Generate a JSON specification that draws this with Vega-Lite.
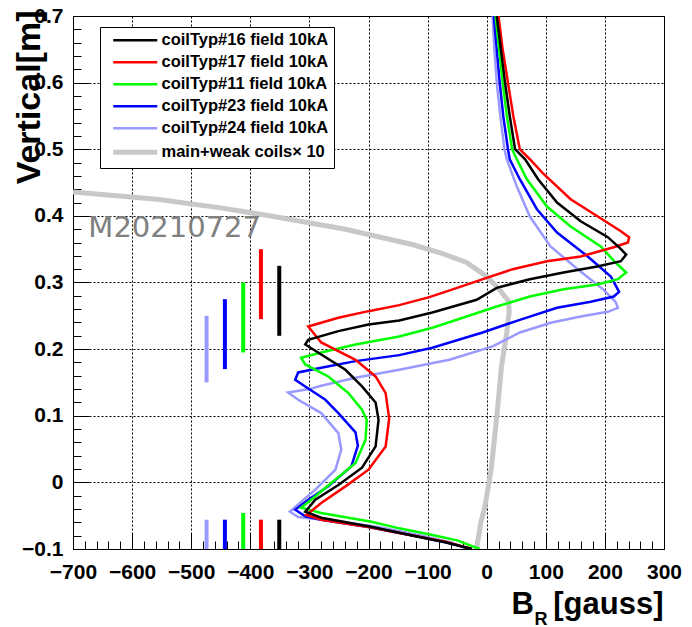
{
  "$schema": "https://vega.github.io/schema/vega-lite/v6.json",
  "width": 591,
  "height": 533,
  "autosize": "none",
  "padding": {"left": 73, "top": 16, "right": 28, "bottom": 78},
  "background": "white",
  "config": {
    "font": "Liberation Sans",
    "view": {"stroke": "black", "strokeWidth": 1},
    "legend": {
      "orient": "none",
      "legendX": 27,
      "legendY": 11,
      "symbolType": "M-4.4,0H4.4",
      "symbolSize": 100,
      "symbolOffset": 22,
      "symbolStrokeWidth": 2.5,
      "labelFont": "Liberation Sans",
      "labelFontSize": 16.5,
      "labelFontWeight": "bold",
      "labelColor": "black",
      "labelOffset": 18,
      "padding": 5,
      "rowPadding": 5,
      "strokeColor": "black",
      "fillColor": "white",
      "labelLimit": 400
    }
  },
  "datasets": {
    "gray": [
      {"s": "main+weak coils× 10", "b": -17, "z": -0.1},
      {"s": "main+weak coils× 10", "b": -10, "z": -0.06},
      {"s": "main+weak coils× 10", "b": -3, "z": -0.037},
      {"s": "main+weak coils× 10", "b": 8, "z": 0.023},
      {"s": "main+weak coils× 10", "b": 17, "z": 0.098},
      {"s": "main+weak coils× 10", "b": 25, "z": 0.174},
      {"s": "main+weak coils× 10", "b": 34, "z": 0.225},
      {"s": "main+weak coils× 10", "b": 38, "z": 0.255},
      {"s": "main+weak coils× 10", "b": 37, "z": 0.272},
      {"s": "main+weak coils× 10", "b": 22, "z": 0.289},
      {"s": "main+weak coils× 10", "b": 0, "z": 0.309},
      {"s": "main+weak coils× 10", "b": -34, "z": 0.33},
      {"s": "main+weak coils× 10", "b": -80, "z": 0.345},
      {"s": "main+weak coils× 10", "b": -126, "z": 0.357},
      {"s": "main+weak coils× 10", "b": -239, "z": 0.38},
      {"s": "main+weak coils× 10", "b": -353, "z": 0.398},
      {"s": "main+weak coils× 10", "b": -450, "z": 0.412},
      {"s": "main+weak coils× 10", "b": -558, "z": 0.425},
      {"s": "main+weak coils× 10", "b": -700, "z": 0.436}
    ],
    "curves": [
      {"s": "coilTyp#24 field 10kA", "b": -34, "z": -0.1},
      {"s": "coilTyp#24 field 10kA", "b": -60, "z": -0.09},
      {"s": "coilTyp#24 field 10kA", "b": -110, "z": -0.08},
      {"s": "coilTyp#24 field 10kA", "b": -183, "z": -0.067},
      {"s": "coilTyp#24 field 10kA", "b": -260, "z": -0.058},
      {"s": "coilTyp#24 field 10kA", "b": -319, "z": -0.052},
      {"s": "coilTyp#24 field 10kA", "b": -333, "z": -0.044},
      {"s": "coilTyp#24 field 10kA", "b": -324, "z": -0.037},
      {"s": "coilTyp#24 field 10kA", "b": -290, "z": -0.011},
      {"s": "coilTyp#24 field 10kA", "b": -256, "z": 0.019},
      {"s": "coilTyp#24 field 10kA", "b": -246, "z": 0.049},
      {"s": "coilTyp#24 field 10kA", "b": -251, "z": 0.074},
      {"s": "coilTyp#24 field 10kA", "b": -280, "z": 0.104},
      {"s": "coilTyp#24 field 10kA", "b": -319, "z": 0.124},
      {"s": "coilTyp#24 field 10kA", "b": -336, "z": 0.135},
      {"s": "coilTyp#24 field 10kA", "b": -300, "z": 0.14},
      {"s": "coilTyp#24 field 10kA", "b": -280, "z": 0.145},
      {"s": "coilTyp#24 field 10kA", "b": -222, "z": 0.157},
      {"s": "coilTyp#24 field 10kA", "b": -148, "z": 0.169},
      {"s": "coilTyp#24 field 10kA", "b": -63, "z": 0.184},
      {"s": "coilTyp#24 field 10kA", "b": 10, "z": 0.204},
      {"s": "coilTyp#24 field 10kA", "b": 56, "z": 0.225},
      {"s": "coilTyp#24 field 10kA", "b": 110, "z": 0.24},
      {"s": "coilTyp#24 field 10kA", "b": 159, "z": 0.249},
      {"s": "coilTyp#24 field 10kA", "b": 205, "z": 0.256},
      {"s": "coilTyp#24 field 10kA", "b": 222, "z": 0.262},
      {"s": "coilTyp#24 field 10kA", "b": 218, "z": 0.271},
      {"s": "coilTyp#24 field 10kA", "b": 198, "z": 0.289},
      {"s": "coilTyp#24 field 10kA", "b": 154, "z": 0.32},
      {"s": "coilTyp#24 field 10kA", "b": 108, "z": 0.354},
      {"s": "coilTyp#24 field 10kA", "b": 73, "z": 0.399},
      {"s": "coilTyp#24 field 10kA", "b": 51, "z": 0.444},
      {"s": "coilTyp#24 field 10kA", "b": 34, "z": 0.485},
      {"s": "coilTyp#24 field 10kA", "b": 30, "z": 0.5},
      {"s": "coilTyp#24 field 10kA", "b": 23, "z": 0.55},
      {"s": "coilTyp#24 field 10kA", "b": 17, "z": 0.6},
      {"s": "coilTyp#24 field 10kA", "b": 13, "z": 0.65},
      {"s": "coilTyp#24 field 10kA", "b": 10, "z": 0.7},

      {"s": "coilTyp#23 field 10kA", "b": -25, "z": -0.1},
      {"s": "coilTyp#23 field 10kA", "b": -70, "z": -0.09},
      {"s": "coilTyp#23 field 10kA", "b": -130, "z": -0.079},
      {"s": "coilTyp#23 field 10kA", "b": -200, "z": -0.067},
      {"s": "coilTyp#23 field 10kA", "b": -280, "z": -0.056},
      {"s": "coilTyp#23 field 10kA", "b": -307, "z": -0.051},
      {"s": "coilTyp#23 field 10kA", "b": -324, "z": -0.041},
      {"s": "coilTyp#23 field 10kA", "b": -302, "z": -0.026},
      {"s": "coilTyp#23 field 10kA", "b": -268, "z": -0.006},
      {"s": "coilTyp#23 field 10kA", "b": -229, "z": 0.024},
      {"s": "coilTyp#23 field 10kA", "b": -218, "z": 0.055},
      {"s": "coilTyp#23 field 10kA", "b": -222, "z": 0.075},
      {"s": "coilTyp#23 field 10kA", "b": -237, "z": 0.09},
      {"s": "coilTyp#23 field 10kA", "b": -251, "z": 0.104},
      {"s": "coilTyp#23 field 10kA", "b": -273, "z": 0.124},
      {"s": "coilTyp#23 field 10kA", "b": -307, "z": 0.144},
      {"s": "coilTyp#23 field 10kA", "b": -324, "z": 0.154},
      {"s": "coilTyp#23 field 10kA", "b": -319, "z": 0.165},
      {"s": "coilTyp#23 field 10kA", "b": -280, "z": 0.172},
      {"s": "coilTyp#23 field 10kA", "b": -222, "z": 0.182},
      {"s": "coilTyp#23 field 10kA", "b": -148, "z": 0.191},
      {"s": "coilTyp#23 field 10kA", "b": -92, "z": 0.202},
      {"s": "coilTyp#23 field 10kA", "b": -7, "z": 0.225},
      {"s": "coilTyp#23 field 10kA", "b": 56, "z": 0.244},
      {"s": "coilTyp#23 field 10kA", "b": 119, "z": 0.262},
      {"s": "coilTyp#23 field 10kA", "b": 176, "z": 0.271},
      {"s": "coilTyp#23 field 10kA", "b": 215, "z": 0.279},
      {"s": "coilTyp#23 field 10kA", "b": 224, "z": 0.286},
      {"s": "coilTyp#23 field 10kA", "b": 210, "z": 0.309},
      {"s": "coilTyp#23 field 10kA", "b": 171, "z": 0.339},
      {"s": "coilTyp#23 field 10kA", "b": 119, "z": 0.375},
      {"s": "coilTyp#23 field 10kA", "b": 85, "z": 0.41},
      {"s": "coilTyp#23 field 10kA", "b": 56, "z": 0.455},
      {"s": "coilTyp#23 field 10kA", "b": 39, "z": 0.485},
      {"s": "coilTyp#23 field 10kA", "b": 36, "z": 0.5},
      {"s": "coilTyp#23 field 10kA", "b": 28, "z": 0.55},
      {"s": "coilTyp#23 field 10kA", "b": 22, "z": 0.6},
      {"s": "coilTyp#23 field 10kA", "b": 17, "z": 0.65},
      {"s": "coilTyp#23 field 10kA", "b": 12, "z": 0.7},

      {"s": "coilTyp#11 field 10kA", "b": -12, "z": -0.1},
      {"s": "coilTyp#11 field 10kA", "b": -50, "z": -0.087},
      {"s": "coilTyp#11 field 10kA", "b": -92, "z": -0.079},
      {"s": "coilTyp#11 field 10kA", "b": -148, "z": -0.069},
      {"s": "coilTyp#11 field 10kA", "b": -195, "z": -0.059},
      {"s": "coilTyp#11 field 10kA", "b": -280, "z": -0.046},
      {"s": "coilTyp#11 field 10kA", "b": -314, "z": -0.038},
      {"s": "coilTyp#11 field 10kA", "b": -297, "z": -0.026},
      {"s": "coilTyp#11 field 10kA", "b": -263, "z": -0.001},
      {"s": "coilTyp#11 field 10kA", "b": -222, "z": 0.029},
      {"s": "coilTyp#11 field 10kA", "b": -205, "z": 0.064},
      {"s": "coilTyp#11 field 10kA", "b": -203, "z": 0.094},
      {"s": "coilTyp#11 field 10kA", "b": -211, "z": 0.109},
      {"s": "coilTyp#11 field 10kA", "b": -234, "z": 0.134},
      {"s": "coilTyp#11 field 10kA", "b": -268, "z": 0.159},
      {"s": "coilTyp#11 field 10kA", "b": -307, "z": 0.177},
      {"s": "coilTyp#11 field 10kA", "b": -314, "z": 0.187},
      {"s": "coilTyp#11 field 10kA", "b": -280, "z": 0.195},
      {"s": "coilTyp#11 field 10kA", "b": -222, "z": 0.207},
      {"s": "coilTyp#11 field 10kA", "b": -148, "z": 0.219},
      {"s": "coilTyp#11 field 10kA", "b": -92, "z": 0.232},
      {"s": "coilTyp#11 field 10kA", "b": -34, "z": 0.249},
      {"s": "coilTyp#11 field 10kA", "b": 17, "z": 0.264},
      {"s": "coilTyp#11 field 10kA", "b": 73, "z": 0.279},
      {"s": "coilTyp#11 field 10kA", "b": 130, "z": 0.29},
      {"s": "coilTyp#11 field 10kA", "b": 187, "z": 0.297},
      {"s": "coilTyp#11 field 10kA", "b": 222, "z": 0.305},
      {"s": "coilTyp#11 field 10kA", "b": 236, "z": 0.315},
      {"s": "coilTyp#11 field 10kA", "b": 218, "z": 0.33},
      {"s": "coilTyp#11 field 10kA", "b": 193, "z": 0.354},
      {"s": "coilTyp#11 field 10kA", "b": 142, "z": 0.384},
      {"s": "coilTyp#11 field 10kA", "b": 102, "z": 0.414},
      {"s": "coilTyp#11 field 10kA", "b": 68, "z": 0.455},
      {"s": "coilTyp#11 field 10kA", "b": 51, "z": 0.485},
      {"s": "coilTyp#11 field 10kA", "b": 43, "z": 0.5},
      {"s": "coilTyp#11 field 10kA", "b": 34, "z": 0.55},
      {"s": "coilTyp#11 field 10kA", "b": 27, "z": 0.6},
      {"s": "coilTyp#11 field 10kA", "b": 21, "z": 0.65},
      {"s": "coilTyp#11 field 10kA", "b": 15, "z": 0.7},

      {"s": "coilTyp#17 field 10kA", "b": -25, "z": -0.1},
      {"s": "coilTyp#17 field 10kA", "b": -70, "z": -0.089},
      {"s": "coilTyp#17 field 10kA", "b": -130, "z": -0.079},
      {"s": "coilTyp#17 field 10kA", "b": -200, "z": -0.067},
      {"s": "coilTyp#17 field 10kA", "b": -280, "z": -0.056},
      {"s": "coilTyp#17 field 10kA", "b": -305, "z": -0.049},
      {"s": "coilTyp#17 field 10kA", "b": -280, "z": -0.031},
      {"s": "coilTyp#17 field 10kA", "b": -239, "z": -0.006},
      {"s": "coilTyp#17 field 10kA", "b": -200, "z": 0.019},
      {"s": "coilTyp#17 field 10kA", "b": -171, "z": 0.054},
      {"s": "coilTyp#17 field 10kA", "b": -165, "z": 0.096},
      {"s": "coilTyp#17 field 10kA", "b": -171, "z": 0.134},
      {"s": "coilTyp#17 field 10kA", "b": -188, "z": 0.159},
      {"s": "coilTyp#17 field 10kA", "b": -222, "z": 0.184},
      {"s": "coilTyp#17 field 10kA", "b": -280, "z": 0.21},
      {"s": "coilTyp#17 field 10kA", "b": -302, "z": 0.234},
      {"s": "coilTyp#17 field 10kA", "b": -251, "z": 0.247},
      {"s": "coilTyp#17 field 10kA", "b": -200, "z": 0.257},
      {"s": "coilTyp#17 field 10kA", "b": -148, "z": 0.266},
      {"s": "coilTyp#17 field 10kA", "b": -97, "z": 0.278},
      {"s": "coilTyp#17 field 10kA", "b": -50, "z": 0.292},
      {"s": "coilTyp#17 field 10kA", "b": 0, "z": 0.307},
      {"s": "coilTyp#17 field 10kA", "b": 44, "z": 0.32},
      {"s": "coilTyp#17 field 10kA", "b": 102, "z": 0.332},
      {"s": "coilTyp#17 field 10kA", "b": 159, "z": 0.339},
      {"s": "coilTyp#17 field 10kA", "b": 215, "z": 0.353},
      {"s": "coilTyp#17 field 10kA", "b": 239, "z": 0.36},
      {"s": "coilTyp#17 field 10kA", "b": 241, "z": 0.368},
      {"s": "coilTyp#17 field 10kA", "b": 227, "z": 0.377},
      {"s": "coilTyp#17 field 10kA", "b": 188, "z": 0.399},
      {"s": "coilTyp#17 field 10kA", "b": 142, "z": 0.425},
      {"s": "coilTyp#17 field 10kA", "b": 94, "z": 0.465},
      {"s": "coilTyp#17 field 10kA", "b": 73, "z": 0.485},
      {"s": "coilTyp#17 field 10kA", "b": 56, "z": 0.5},
      {"s": "coilTyp#17 field 10kA", "b": 45, "z": 0.55},
      {"s": "coilTyp#17 field 10kA", "b": 36, "z": 0.6},
      {"s": "coilTyp#17 field 10kA", "b": 27, "z": 0.65},
      {"s": "coilTyp#17 field 10kA", "b": 20, "z": 0.7},

      {"s": "coilTyp#16 field 10kA", "b": -25, "z": -0.1},
      {"s": "coilTyp#16 field 10kA", "b": -70, "z": -0.09},
      {"s": "coilTyp#16 field 10kA", "b": -130, "z": -0.079},
      {"s": "coilTyp#16 field 10kA", "b": -200, "z": -0.066},
      {"s": "coilTyp#16 field 10kA", "b": -280, "z": -0.053},
      {"s": "coilTyp#16 field 10kA", "b": -307, "z": -0.044},
      {"s": "coilTyp#16 field 10kA", "b": -290, "z": -0.026},
      {"s": "coilTyp#16 field 10kA", "b": -251, "z": -0.004},
      {"s": "coilTyp#16 field 10kA", "b": -211, "z": 0.022},
      {"s": "coilTyp#16 field 10kA", "b": -188, "z": 0.054},
      {"s": "coilTyp#16 field 10kA", "b": -183, "z": 0.094},
      {"s": "coilTyp#16 field 10kA", "b": -188, "z": 0.12},
      {"s": "coilTyp#16 field 10kA", "b": -211, "z": 0.144},
      {"s": "coilTyp#16 field 10kA", "b": -239, "z": 0.169},
      {"s": "coilTyp#16 field 10kA", "b": -280, "z": 0.192},
      {"s": "coilTyp#16 field 10kA", "b": -307, "z": 0.207},
      {"s": "coilTyp#16 field 10kA", "b": -302, "z": 0.214},
      {"s": "coilTyp#16 field 10kA", "b": -251, "z": 0.227},
      {"s": "coilTyp#16 field 10kA", "b": -200, "z": 0.237},
      {"s": "coilTyp#16 field 10kA", "b": -148, "z": 0.243},
      {"s": "coilTyp#16 field 10kA", "b": -92, "z": 0.255},
      {"s": "coilTyp#16 field 10kA", "b": -17, "z": 0.274},
      {"s": "coilTyp#16 field 10kA", "b": 17, "z": 0.292},
      {"s": "coilTyp#16 field 10kA", "b": 73, "z": 0.305},
      {"s": "coilTyp#16 field 10kA", "b": 130, "z": 0.315},
      {"s": "coilTyp#16 field 10kA", "b": 187, "z": 0.324},
      {"s": "coilTyp#16 field 10kA", "b": 227, "z": 0.332},
      {"s": "coilTyp#16 field 10kA", "b": 236, "z": 0.342},
      {"s": "coilTyp#16 field 10kA", "b": 225, "z": 0.352},
      {"s": "coilTyp#16 field 10kA", "b": 205, "z": 0.368},
      {"s": "coilTyp#16 field 10kA", "b": 159, "z": 0.392},
      {"s": "coilTyp#16 field 10kA", "b": 119, "z": 0.42},
      {"s": "coilTyp#16 field 10kA", "b": 87, "z": 0.455},
      {"s": "coilTyp#16 field 10kA", "b": 65, "z": 0.485},
      {"s": "coilTyp#16 field 10kA", "b": 48, "z": 0.5},
      {"s": "coilTyp#16 field 10kA", "b": 39, "z": 0.55},
      {"s": "coilTyp#16 field 10kA", "b": 31, "z": 0.6},
      {"s": "coilTyp#16 field 10kA", "b": 24, "z": 0.65},
      {"s": "coilTyp#16 field 10kA", "b": 17, "z": 0.7}
    ],
    "bars": [
      {"s": "coilTyp#24 field 10kA", "b": -474, "z1": 0.15, "z2": 0.25},
      {"s": "coilTyp#23 field 10kA", "b": -443, "z1": 0.17, "z2": 0.275},
      {"s": "coilTyp#11 field 10kA", "b": -412, "z1": 0.195, "z2": 0.3},
      {"s": "coilTyp#17 field 10kA", "b": -382, "z1": 0.245, "z2": 0.35},
      {"s": "coilTyp#16 field 10kA", "b": -351, "z1": 0.22, "z2": 0.325},
      {"s": "coilTyp#24 field 10kA", "b": -474, "z1": -0.1, "z2": -0.056},
      {"s": "coilTyp#23 field 10kA", "b": -443, "z1": -0.1, "z2": -0.056},
      {"s": "coilTyp#11 field 10kA", "b": -412, "z1": -0.1, "z2": -0.046},
      {"s": "coilTyp#17 field 10kA", "b": -382, "z1": -0.1, "z2": -0.056},
      {"s": "coilTyp#16 field 10kA", "b": -351, "z1": -0.1, "z2": -0.056}
    ],
    "note": [
      {"b": -674, "z": 0.369, "label": "M20210727"}
    ]
  },
  "resolve": {"axis": {"x": "independent", "y": "independent"}},
  "layer": [
    {
      "data": {"name": "gray"},
      "mark": {"type": "line", "clip": true, "strokeWidth": 5},
      "encoding": {
        "x": {
          "field": "b", "type": "quantitative",
          "scale": {"domain": [-700, 300], "nice": false, "zero": false},
          "axis": {
            "orient": "bottom",
            "values": [-700, -600, -500, -400, -300, -200, -100, 0, 100, 200, 300],
            "format": "d",
            "grid": true, "gridColor": "black", "gridDash": [2, 2], "gridWidth": 1, "gridOpacity": 1,
            "ticks": true, "tickSize": -16, "tickColor": "black", "tickWidth": 1,
            "domain": false,
            "labelFont": "Liberation Sans", "labelFontSize": 21, "labelFontWeight": "bold", "labelColor": "black",
            "labelPadding": 28, "labelFlush": false, "labelOverlap": false,
            "title": "[gauss]",
            "titleFont": "Liberation Sans", "titleFontSize": 31, "titleFontWeight": "bold", "titleColor": "black",
            "titleX": 590, "titleY": 64, "titleAlign": "right", "titleBaseline": "alphabetic", "titleAngle": 0
          }
        },
        "y": {
          "field": "z", "type": "quantitative",
          "scale": {"domain": [-0.1, 0.7], "nice": false, "zero": false},
          "axis": {
            "orient": "left",
            "values": [-0.1, 0, 0.1, 0.2, 0.3, 0.4, 0.5, 0.6, 0.7],
            "labelExpr": "datum.value == 0 ? '0' : format(datum.value, '.1f')",
            "grid": true, "gridColor": "black", "gridDash": [2, 2], "gridWidth": 1, "gridOpacity": 1,
            "ticks": true, "tickSize": -16, "tickColor": "black", "tickWidth": 1,
            "domain": false,
            "labelFont": "Liberation Sans", "labelFontSize": 21, "labelFontWeight": "bold", "labelColor": "black",
            "labelPadding": 26, "labelFlush": false, "labelOverlap": false, "labelBaseline": "middle",
            "title": "Vertical[m]",
            "titleFont": "Liberation Sans", "titleFontSize": 34, "titleFontWeight": "bold", "titleColor": "black",
            "titleX": -34, "titleY": -6, "titleAngle": 270, "titleAlign": "right", "titleBaseline": "alphabetic"
          }
        },
        "order": {"field": "z", "type": "quantitative"},
        "color": {
          "field": "s", "type": "nominal",
          "scale": {
            "domain": ["coilTyp#16 field 10kA", "coilTyp#17 field 10kA", "coilTyp#11 field 10kA", "coilTyp#23 field 10kA", "coilTyp#24 field 10kA", "main+weak coils× 10"],
            "range": ["#000000", "#ff0000", "#00ff00", "#0000ff", "#9999ff", "#c8c8c8"]
          },
          "legend": {
            "title": null,
            "encode": {"symbols": {"update": {"strokeWidth": {"signal": "datum.value === 'main+weak coils× 10' ? 5 : 2.5"}}}}
          }
        }
      }
    },
    {
      "data": {"name": "curves"},
      "mark": {"type": "line", "clip": true, "strokeWidth": 2.5},
      "encoding": {
        "x": {
          "field": "b", "type": "quantitative",
          "scale": {"domain": [-700, 300], "nice": false, "zero": false},
          "axis": {
            "orient": "bottom",
            "values": [-680, -660, -640, -620, -580, -560, -540, -520, -480, -460, -440, -420, -380, -360, -340, -320, -280, -260, -240, -220, -180, -160, -140, -120, -80, -60, -40, -20, 20, 40, 60, 80, 120, 140, 160, 180, 220, 240, 260, 280],
            "grid": false, "labels": false, "domain": false,
            "ticks": true, "tickSize": -8, "tickColor": "black", "tickWidth": 1,
            "title": "B",
            "titleFont": "Liberation Sans", "titleFontSize": 31, "titleFontWeight": "bold", "titleColor": "black",
            "titleX": 438, "titleY": 64, "titleAlign": "left", "titleBaseline": "alphabetic", "titleAngle": 0
          }
        },
        "y": {
          "field": "z", "type": "quantitative",
          "scale": {"domain": [-0.1, 0.7], "nice": false, "zero": false},
          "axis": {
            "orient": "left",
            "values": [-0.08, -0.06, -0.04, -0.02, 0.02, 0.04, 0.06, 0.08, 0.12, 0.14, 0.16, 0.18, 0.22, 0.24, 0.26, 0.28, 0.32, 0.34, 0.36, 0.38, 0.42, 0.44, 0.46, 0.48, 0.52, 0.54, 0.56, 0.58, 0.62, 0.64, 0.66, 0.68],
            "grid": false, "labels": false, "domain": false,
            "ticks": true, "tickSize": -8, "tickColor": "black", "tickWidth": 1,
            "title": null
          }
        },
        "order": {"field": "z", "type": "quantitative"},
        "color": {"field": "s", "type": "nominal", "legend": {"title": null}}
      }
    },
    {
      "data": {"name": "bars"},
      "mark": {"type": "rule", "strokeWidth": 4},
      "encoding": {
        "x": {
          "field": "b", "type": "quantitative",
          "scale": {"domain": [-700, 300], "nice": false, "zero": false},
          "axis": {
            "orient": "bottom",
            "grid": false, "labels": false, "domain": false, "ticks": false,
            "title": "R",
            "titleFont": "Liberation Sans", "titleFontSize": 18, "titleFontWeight": "bold", "titleColor": "black",
            "titleX": 461, "titleY": 75, "titleAlign": "left", "titleBaseline": "alphabetic", "titleAngle": 0
          }
        },
        "y": {
          "field": "z1", "type": "quantitative",
          "scale": {"domain": [-0.1, 0.7], "nice": false, "zero": false},
          "axis": null
        },
        "y2": {"field": "z2"},
        "color": {"field": "s", "type": "nominal", "legend": {"title": null}}
      }
    },
    {
      "data": {"name": "note"},
      "mark": {"type": "text", "font": "DejaVu Sans", "fontSize": 29, "color": "#808080", "align": "left", "baseline": "alphabetic"},
      "encoding": {
        "x": {"field": "b", "type": "quantitative", "scale": {"domain": [-700, 300], "nice": false, "zero": false}, "axis": null},
        "y": {"field": "z", "type": "quantitative", "scale": {"domain": [-0.1, 0.7], "nice": false, "zero": false}, "axis": null},
        "text": {"field": "label"}
      }
    }
  ]
}
